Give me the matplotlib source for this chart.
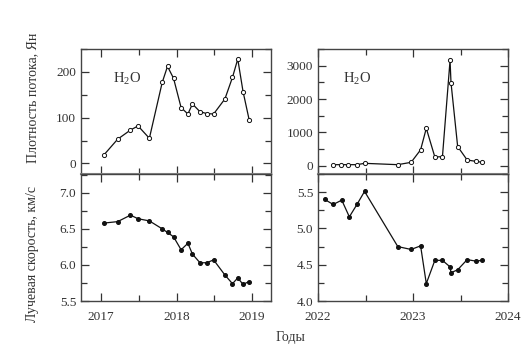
import matplotlib.pyplot as plt
from matplotlib.ticker import MultipleLocator, FixedLocator

plt.rcParams['font.family'] = ['Liberation Serif', 'DejaVu Serif']
plt.rcParams['font.size'] = 9.5
plt.rcParams['mathtext.fontset'] = 'custom'
plt.rcParams['mathtext.rm'] = 'Liberation Serif'
plt.rcParams['mathtext.it'] = 'Liberation Serif:italic'

# 2017-2019 epoch
dates1 = [2017.04, 2017.22, 2017.39, 2017.49, 2017.64, 2017.81, 2017.88, 2017.96,
          2018.06, 2018.15, 2018.21, 2018.31, 2018.40, 2018.49, 2018.64, 2018.74,
          2018.81, 2018.88, 2018.96]
flux1 = [19, 53, 73, 82, 55, 177, 212, 186, 122, 108, 130, 113, 109, 108, 141, 188,
         228, 157, 96]
vel1 = [6.58, 6.60, 6.69, 6.64, 6.61, 6.50, 6.45, 6.39, 6.21, 6.30, 6.15, 6.03,
        6.03, 6.07, 5.86, 5.74, 5.82, 5.73, 5.77]

# 2022-2024 epoch
dates2_flux = [2022.16, 2022.24, 2022.32, 2022.41, 2022.49, 2022.84, 2022.98, 2023.08,
               2023.14, 2023.23, 2023.31, 2023.39, 2023.40, 2023.47, 2023.57, 2023.66,
               2023.73]
flux2 = [30, 30, 30, 30, 70, 30, 100, 475, 1120, 260, 270, 3160, 2490, 575, 170, 130, 100]
dates2_vel = [2022.07, 2022.16, 2022.25, 2022.33, 2022.41, 2022.49, 2022.84, 2022.98,
              2023.08, 2023.14, 2023.23, 2023.31, 2023.39, 2023.40, 2023.47, 2023.57,
              2023.66, 2023.73]
vel2 = [5.40, 5.33, 5.39, 5.16, 5.33, 5.51, 4.75, 4.71, 4.76, 4.24, 4.56, 4.56,
        4.47, 4.39, 4.43, 4.57, 4.55, 4.56]

years1 = [2017, 2018, 2019]
years2 = [2022, 2023, 2024]

fig = plt.figure(figsize=(5.28, 3.51), dpi=100)
W, H = 528, 351

def box(x0, y0, x1, y1):
    return [x0 / W, 1 - y1 / H, (x1 - x0) / W, (y1 - y0) / H]

ax_tl = fig.add_axes(box(81, 49, 271, 174))
ax_bl = fig.add_axes(box(81, 174, 271, 301))
ax_tr = fig.add_axes(box(318, 49, 508, 174))
ax_br = fig.add_axes(box(318, 174, 508, 301))

line_kw = dict(color='#111111', lw=0.9)
ax_tl.plot(dates1, flux1, marker='o', ms=3.0, mfc='white', mec='#111111', mew=0.7, **line_kw)
ax_tr.plot(dates2_flux, flux2, marker='o', ms=3.0, mfc='white', mec='#111111', mew=0.7, **line_kw)
ax_bl.plot(dates1, vel1, marker='o', ms=2.6, mfc='#111111', mec='#111111', **line_kw)
ax_br.plot(dates2_vel, vel2, marker='o', ms=2.6, mfc='#111111', mec='#111111', **line_kw)

for ax in [ax_tl, ax_bl]:
    ax.set_xlim(2016.735, 2019.25)
    ax.xaxis.set_major_locator(FixedLocator(years1))
for ax in [ax_tr, ax_br]:
    ax.set_xlim(2022, 2024)
    ax.xaxis.set_major_locator(FixedLocator(years2))
ax_bl.set_xticklabels([str(y) for y in years1])
ax_br.set_xticklabels([str(y) for y in years2])

ax_tl.set_ylim(-23, 250)
ax_tl.yaxis.set_major_locator(MultipleLocator(100))
ax_tl.yaxis.set_minor_locator(MultipleLocator(50))
ax_tr.set_ylim(-250, 3500)
ax_tr.yaxis.set_major_locator(MultipleLocator(1000))
ax_tr.yaxis.set_minor_locator(MultipleLocator(500))
ax_bl.set_ylim(5.5, 7.26)
ax_bl.yaxis.set_major_locator(MultipleLocator(0.5))
ax_bl.yaxis.set_minor_locator(MultipleLocator(0.25))
ax_br.set_ylim(4.0, 5.75)
ax_br.yaxis.set_major_locator(MultipleLocator(0.5))
ax_br.yaxis.set_minor_locator(MultipleLocator(0.25))
ax_bl.yaxis.set_major_formatter(plt.FuncFormatter(lambda v, _: f'{v:.1f}'))
ax_br.yaxis.set_major_formatter(plt.FuncFormatter(lambda v, _: f'{v:.1f}'))

for ax in [ax_tl, ax_bl, ax_tr, ax_br]:
    ax.xaxis.set_minor_locator(MultipleLocator(0.5))
    ax.tick_params(which='both', direction='in', top=True, right=True, colors='#333333',
                   labelcolor='#333333', width=0.9)
    ax.tick_params(which='major', length=6)
    ax.tick_params(which='minor', length=4)
    ax.tick_params(axis='x', pad=7)
    for s in ax.spines.values():
        s.set_color('#444444')
        s.set_linewidth(1.0)

# the top panels sit directly on the bottom ones
for ax in [ax_tl, ax_tr]:
    ax.tick_params(labelbottom=False)
    ax.spines['bottom'].set_color('#888888')
    ax.spines['bottom'].set_linewidth(1.5)

ax_tl.text(0.17, 0.76, r'H$_2$O', transform=ax_tl.transAxes, fontsize=10.5,
           va='center', color='#333333')
ax_tr.text(0.13, 0.76, r'H$_2$O', transform=ax_tr.transAxes, fontsize=10.5,
           va='center', color='#333333')

fig.text(33 / W, 1 - 98 / H, 'Плотность потока, Ян', rotation=90, ha='center', va='center',
         fontsize=10, color='#333333')
fig.text(33 / W, 1 - 254 / H, 'Лучевая скорость, км/с', rotation=90, ha='center', va='center',
         fontsize=10, color='#333333')
fig.text(290 / W, 1 - 337 / H, 'Годы', ha='center', va='center', fontsize=10, color='#333333')

fig.savefig('out.png', dpi=100)
